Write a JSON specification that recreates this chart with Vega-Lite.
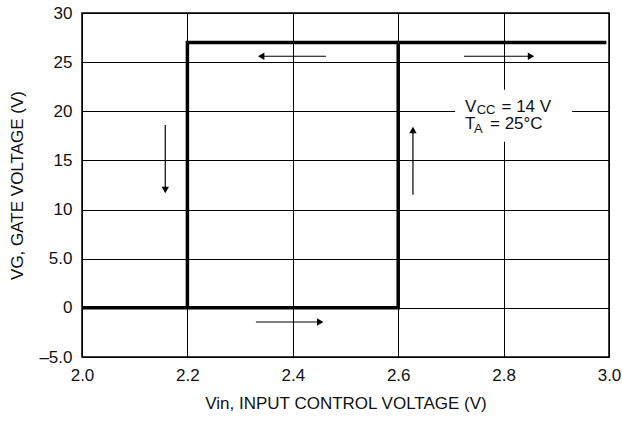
{
  "$schema": "https://vega.github.io/schema/vega-lite/v6.json",
  "width": 527,
  "height": 344,
  "autosize": {"type": "none"},
  "padding": {"left": 82, "top": 13, "right": 13, "bottom": 66},
  "background": "white",
  "config": {
    "view": {"stroke": "black", "strokeWidth": 1.5},
    "font": "Liberation Sans",
    "axis": {
      "labelFont": "Liberation Sans",
      "titleFont": "Liberation Sans",
      "labelFontSize": 17,
      "titleFontSize": 17,
      "titleFontWeight": "normal",
      "labelColor": "#111",
      "titleColor": "#111",
      "labelFlush": false,
      "domain": false,
      "ticks": false,
      "gridColor": "black",
      "gridOpacity": 1,
      "gridWidth": 1
    }
  },
  "datasets": {
    "curve": [
      {"x": 2.0, "y": 0, "seg": "a", "i": 1},
      {"x": 2.6, "y": 0, "seg": "a", "i": 2},
      {"x": 2.6, "y": 27, "seg": "a", "i": 3},
      {"x": 2.995, "y": 27, "seg": "a", "i": 4},
      {"x": 2.2, "y": 0, "seg": "b", "i": 1},
      {"x": 2.2, "y": 27, "seg": "b", "i": 2},
      {"x": 2.6, "y": 27, "seg": "b", "i": 3}
    ],
    "shafts": [
      {"x": 2.34, "x2": 2.463, "y": 25.6, "y2": 25.6},
      {"x": 2.725, "x2": 2.852, "y": 25.6, "y2": 25.6},
      {"x": 2.33, "x2": 2.452, "y": -1.44, "y2": -1.44},
      {"x": 2.158, "x2": 2.158, "y": 18.6, "y2": 12.0},
      {"x": 2.628, "x2": 2.628, "y": 11.5, "y2": 18.1}
    ],
    "heads": [
      {"x": 2.34, "y": 25.6, "dir": "triangle-left"},
      {"x": 2.852, "y": 25.6, "dir": "triangle-right"},
      {"x": 2.452, "y": -1.44, "dir": "triangle-right"},
      {"x": 2.158, "y": 12.0, "dir": "triangle-down"},
      {"x": 2.628, "y": 18.1, "dir": "triangle-up"}
    ],
    "box": [{"x": 2.708, "x2": 2.93, "y": 16.9, "y2": 22.2}],
    "notes": [
      {"x": 2.7268, "y": 19.95, "text": "V", "part": "main"},
      {"x": 2.749, "y": 19.68, "text": "CC", "part": "sub"},
      {"x": 2.796, "y": 19.95, "text": "= 14 V", "part": "main"},
      {"x": 2.7268, "y": 18.15, "text": "T", "part": "main"},
      {"x": 2.744, "y": 17.8, "text": "A", "part": "sub"},
      {"x": 2.7742, "y": 18.15, "text": "= 25°C", "part": "main"}
    ]
  },
  "encoding": {
    "x": {
      "field": "x", "type": "quantitative",
      "scale": {"domain": [2, 3], "nice": false, "zero": false},
      "axis": {
        "values": [2.0, 2.2, 2.4, 2.6, 2.8, 3.0],
        "format": ".1f",
        "labelPadding": 10,
        "title": "Vin, INPUT CONTROL VOLTAGE (V)",
        "titlePadding": 12
      }
    },
    "y": {
      "field": "y", "type": "quantitative",
      "scale": {"domain": [-5, 30], "nice": false, "zero": false},
      "axis": {
        "values": [-5, 0, 5, 10, 15, 20, 25, 30],
        "labelExpr": "datum.value == 5 ? '5.0' : datum.value == -5 ? '–5.0' : datum.label",
        "labelPadding": 10,
        "title": "VG, GATE VOLTAGE (V)",
        "titlePadding": 12
      }
    }
  },
  "layer": [
    {
      "data": {"name": "box"},
      "mark": {"type": "rect", "fill": "white"},
      "encoding": {"x2": {"field": "x2"}, "y2": {"field": "y2"}}
    },
    {
      "data": {"name": "curve"},
      "mark": {"type": "line", "color": "black", "strokeWidth": 3.5, "strokeJoin": "miter"},
      "encoding": {"detail": {"field": "seg"}, "order": {"field": "i"}}
    },
    {
      "data": {"name": "shafts"},
      "mark": {"type": "rule", "color": "black", "strokeWidth": 1.2},
      "encoding": {"x2": {"field": "x2"}, "y2": {"field": "y2"}}
    },
    {
      "data": {"name": "heads"},
      "mark": {"type": "point", "filled": true, "color": "black", "opacity": 1, "size": 55},
      "encoding": {"shape": {"field": "dir", "type": "nominal", "scale": null}}
    },
    {
      "data": {"name": "notes"},
      "transform": [{"filter": "datum.part == 'main'"}],
      "mark": {"type": "text", "align": "left", "baseline": "alphabetic", "fontSize": 17, "color": "#111"},
      "encoding": {"text": {"field": "text"}}
    },
    {
      "data": {"name": "notes"},
      "transform": [{"filter": "datum.part == 'sub'"}],
      "mark": {"type": "text", "align": "left", "baseline": "alphabetic", "fontSize": 13, "color": "#111"},
      "encoding": {"text": {"field": "text"}}
    }
  ]
}
